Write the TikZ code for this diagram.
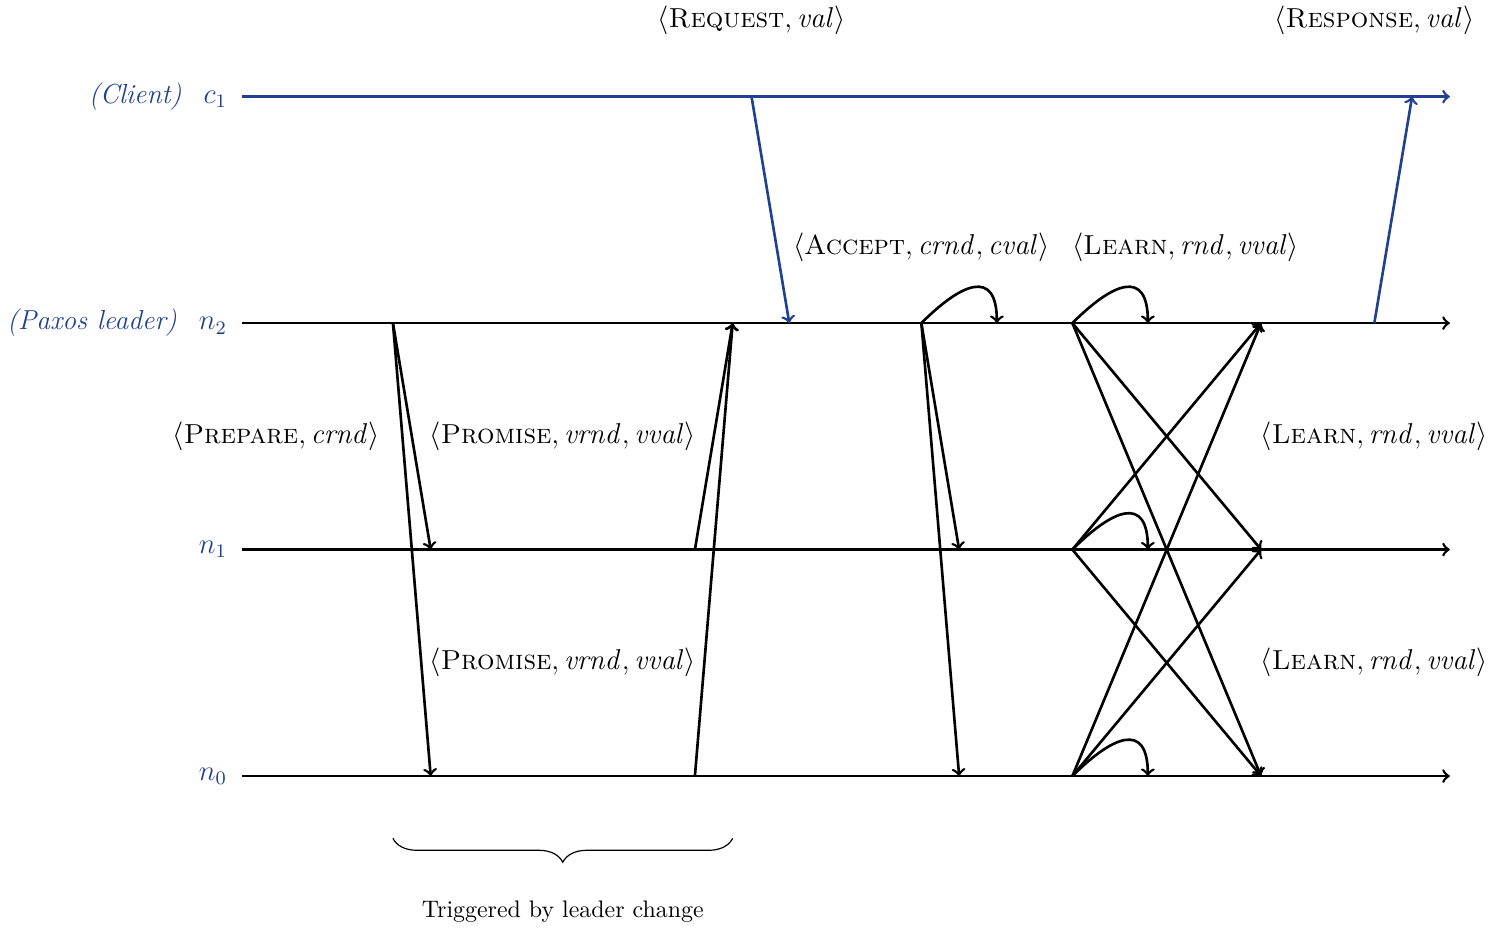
\documentclass[tikz,border=0pt]{standalone}
\usetikzlibrary{decorations.pathreplacing}

\definecolor{procblue}{RGB}{32,64,144}
\newcommand{\pxmsg}[2]{$\langle\textsc{#1}, #2\rangle$}

\tikzset{
  proc/.style={text=procblue, anchor=east, font=\fontsize{11.5}{14}\selectfont},
  msglabel/.style={font=\fontsize{11.5}{14}\selectfont},
  loopback/.style={out=45, in=90, looseness=1.9},
}

\begin{document}
\begin{tikzpicture}[x=0.555cm, y=0.555cm, >=to, line width=1.1pt]
  \useasboundingbox (-6.41,-4.11) rectangle (33.17,20.56);
  % one time line per process, with a coordinate at every time step
  \foreach \p/\y/\col in {c1/18/procblue, n2/12/black, n1/6/black, n0/0/black} {
    \foreach \t in {0,...,32}
      \coordinate (\p-\t) at (\t,\y);
    \draw[->, \col] (\p-0) -- (\p-32);
  }
  \node[proc] (c1 name) at (-0.15,18) {\textit{(Client)}\hspace{0.8em}$c_1$};
  \node[proc] (n2 name) at (-0.15,12) {\textit{(Paxos leader)}\hspace{0.8em}$n_2$};
  \node[proc] (n1 name) at (-0.15,6) {$n_1$};
  \node[proc] (n0 name) at (-0.15,0) {$n_0$};

  % client request and response
  \coordinate (req) at (13.5,18);
  \coordinate (req end) at (14.5,12);
  \draw[->, procblue] (req) -- (req end);
  \draw[->, procblue] (n2-30) -- (c1-31);
  \node[msglabel] (request) at (13.5,20.03) {\pxmsg{Request}{\mathit{val}}};
  \node[msglabel] (response) at (30,20.03) {\pxmsg{Response}{\mathit{val}}};

  % phase 1
  \draw[->] (n2-4) -- (n1-5);
  \draw[->] (n2-4) -- (n0-5);
  \draw[->] (n1-12) -- (n2-13);
  \draw[->] (n0-12) -- (n2-13);
  \node[msglabel, anchor=east] (prepare) at (3.9,9) {\pxmsg{Prepare}{\mathit{crnd}}};
  \node[msglabel] (promise1) at (8.5,9) {\pxmsg{Promise}{\mathit{vrnd}, \mathit{vval}}};
  \node[msglabel] (promise0) at (8.5,3) {\pxmsg{Promise}{\mathit{vrnd}, \mathit{vval}}};

  % phase 2
  \draw[->] (n2-18) to[loopback] (n2-20);
  \draw[->] (n2-18) -- (n1-19);
  \draw[->] (n2-18) -- (n0-19);
  \node[msglabel] (accept) at (18,14) {\pxmsg{Accept}{\mathit{crnd}, \mathit{cval}}};

  % every acceptor tells every learner
  \foreach \src in {n2,n1,n0}
    \draw[->] (\src-22) to[loopback] (\src-24);
  \foreach \src/\dst in {n2/n1, n2/n0, n1/n2, n1/n0, n0/n2, n0/n1}
    \draw[->] (\src-22) -- (\dst-27);
  \node[msglabel] (learn2) at (25,14) {\pxmsg{Learn}{\mathit{rnd}, \mathit{vval}}};
  \node[msglabel] (learn1) at (30,9) {\pxmsg{Learn}{\mathit{rnd}, \mathit{vval}}};
  \node[msglabel] (learn0) at (30,3) {\pxmsg{Learn}{\mathit{rnd}, \mathit{vval}}};

  % leader change
  \coordinate (brace left) at (4,-1.65);
  \coordinate (brace right) at (13,-1.65);
  \draw[decorate, decoration={brace, mirror, amplitude=10pt}, line width=0.5pt]
    (brace left) -- (brace right);
  \node (trigger) at (8.5,-3.6) {Triggered by leader change};
\end{tikzpicture}
\end{document}
